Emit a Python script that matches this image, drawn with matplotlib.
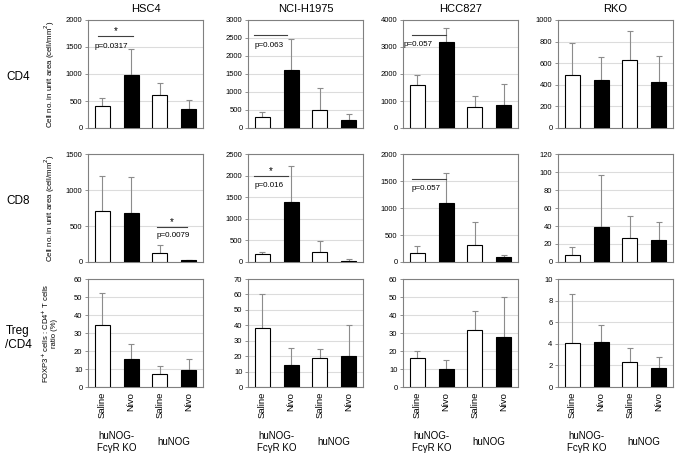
import matplotlib.pyplot as plt
import numpy as np

plt.rcParams['font.family'] = ['Liberation Sans', 'DejaVu Sans']

lines = ["HSC4", "NCI-H1975", "HCC827", "RKO"]
rows = ["CD4", "CD8", "Treg\n/CD4"]
groups = ["Saline", "Nivo", "Saline", "Nivo"]

# mean and upper error-bar end, per row then per cell line
means = [
    [[410, 990, 610, 350], [300, 1600, 510, 210], [1580, 3180, 780, 870], [490, 445, 625, 425]],
    [[710, 680, 120, 25], [175, 1390, 220, 30], [160, 1090, 315, 100], [8, 39, 27, 25]],
    [[34.5, 15.5, 7.5, 9.3], [38.5, 14, 19, 20], [16, 10, 31.5, 28], [4.1, 4.2, 2.3, 1.75]],
]
tops = [
    [[550, 1460, 840, 520], [450, 2480, 1110, 390], [1980, 3720, 1170, 1620], [790, 660, 900, 665]],
    [[1200, 1180, 230, 32], [240, 2230, 480, 80], [300, 1640, 740, 130], [17, 97, 51, 45]],
    [[52.5, 23.8, 11.5, 15.7], [60, 25, 24.5, 40], [20, 15, 42, 50], [8.6, 5.75, 3.6, 2.8]],
]
ymax = [[2000, 3000, 4000, 1000], [1500, 2500, 2000, 120], [60, 70, 60, 10]]
ystep = [[500, 500, 1000, 200], [500, 500, 500, 20], [10, 10, 10, 2]]

# significance: (row, col, x0, x1, line y, star?, p-text, p-text y, p-text x)
sig = [
    (0, 0, -0.15, 1.07, 1700, True, "p=0.0317", 1500, -0.28),
    (0, 1, -0.29, 0.87, 2580, False, "p=0.063", 2280, -0.28),
    (0, 2, -0.18, 1.01, 3440, False, "p=0.057", 3080, -0.48),
    (1, 0, 1.90, 2.94, 486, True, "p=0.0079", 375, 1.88),
    (1, 1, -0.29, 0.90, 1990, True, "p=0.016", 1770, -0.28),
    (1, 2, -0.18, 1.01, 1537, False, "p=0.057", 1370, -0.22),
]

W, H = 676, 459
fig = plt.figure(figsize=(W / 100, H / 100), dpi=100)
lefts = [88, 248, 403, 558]
tops_px = [20, 154, 279]
rowlab_y = [77, 201, 338]
aw, ah = 115, 108

x = np.arange(4)
colors = ["white", "black", "white", "black"]
axes = {}
for r in range(3):
    for c in range(4):
        ax = fig.add_axes([lefts[c] / W, 1 - (tops_px[r] + ah) / H, aw / W, ah / H])
        axes[r, c] = ax
        m = np.array(means[r][c])
        e = np.array(tops[r][c]) - m
        ax.bar(x, m, width=0.52, color=colors, edgecolor="black", linewidth=0.8, zorder=3)
        ax.errorbar(x, m, yerr=[np.zeros(4), e], fmt="none", ecolor="#8c8c8c",
                    elinewidth=0.8, capsize=2, capthick=0.8, zorder=2)
        ax.set_xlim(-0.5, 3.5)
        ax.set_ylim(0, ymax[r][c])
        ax.set_yticks(np.arange(0, ymax[r][c] + 1e-9, ystep[r][c]))
        ax.yaxis.grid(True, color="#dcdcdc", linewidth=0.8, zorder=0)
        ax.set_axisbelow(True)
        for s in ax.spines.values():
            s.set_color("#808080")
            s.set_linewidth(0.8)
        ax.tick_params(axis="y", labelsize=5.5, length=2, width=0.6, color="#808080", pad=2)
        ax.tick_params(axis="x", length=0)
        if r < 2:
            ax.set_xticks([])
        else:
            ax.set_xticks(x)
            ax.set_xticklabels(groups, rotation=90, fontsize=6.8, va="top")
            ax.text(0.5, -0.41, "huNOG-\nFc\u03b3R KO", transform=ax.get_xaxis_transform(),
                    ha="center", va="top", fontsize=7, linespacing=1.25)
            ax.text(2.5, -0.51, "huNOG", transform=ax.get_xaxis_transform(),
                    ha="center", va="center", fontsize=7)
        if r == 0:
            ax.set_title(lines[c], fontsize=8, pad=6)
        if c == 0:
            fig.text(18 / W, 1 - rowlab_y[r] / H, rows[r], ha="center",
                     va="center", fontsize=8.5)
            if r < 2:
                ax.set_ylabel("Cell no. in unit area (cell/mm$^2$)", fontsize=5.7)
                ax.yaxis.set_label_coords(-0.27, 0.5)
            else:
                ax.set_ylabel("FOXP3$^{+}$ cells : CD4$^{+}$ T cells\nratio (%)", fontsize=5.5,
                              linespacing=1.1)
                ax.yaxis.set_label_coords(-0.26, 0.5)

for r, c, x0, x1, ly, star, pt, py, px in sig:
    ax = axes[r, c]
    ax.plot([x0, x1], [ly, ly], color="#404040", linewidth=0.8, zorder=4)
    if star:
        ax.text((x0 + x1) / 2, ly, "*", ha="center", va="bottom", fontsize=7)
    ax.text(px, py, pt, ha="left", va="center", fontsize=5.8, zorder=5)

fig.savefig("out.png", dpi=100)
